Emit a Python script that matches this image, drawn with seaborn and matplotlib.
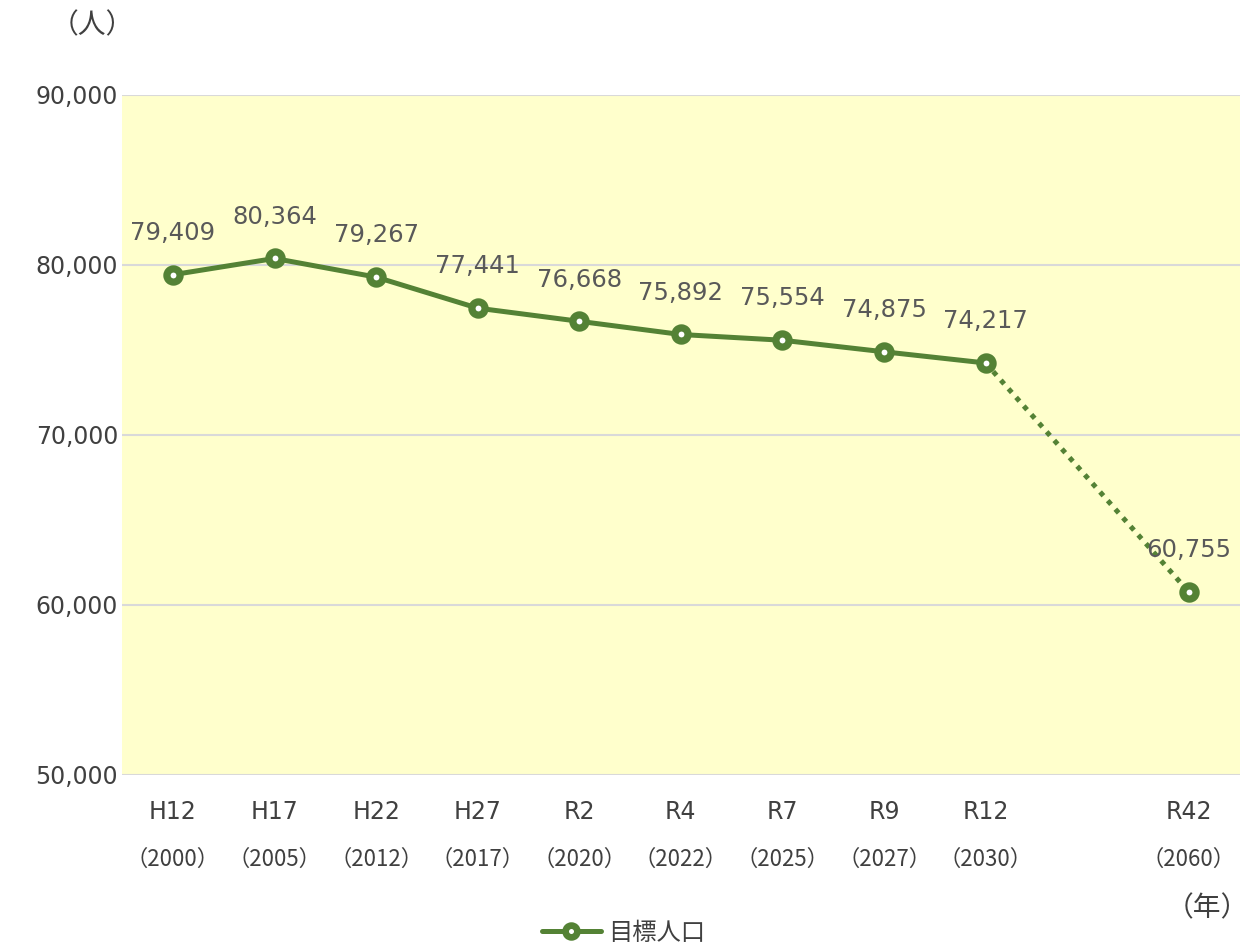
import pandas as pd
import matplotlib.pyplot as plt
import seaborn as sns
from matplotlib.lines import Line2D

# data
era_labels = ['H12', 'H17', 'H22', 'H27', 'R2', 'R4', 'R7', 'R9', 'R12', '', 'R42']
year_labels = ['2000', '2005', '2012', '2017', '2020', '2022', '2025', '2027', '2030', '', '2060']
population = [79409, 80364, 79267, 77441, 76668, 75892, 75554, 74875, 74217, None, 60755]

green = '#548235'
df = pd.DataFrame({'pos': range(len(era_labels)), 'pop': population}).dropna()
actual = df[df['pos'] <= 8]
future = df[df['pos'] >= 8]

sns.set_theme(style='white')
plt.rcParams['font.family'] = ['DejaVu Sans', 'Noto Sans CJK JP']
jp = ['Noto Sans CJK JP', 'DejaVu Sans']

fig = plt.figure(figsize=(12.47, 9.46), dpi=100)
ax = fig.add_axes([0.098, 0.181, 0.896, 0.719])
ax.set_facecolor('#FFFFCC')

sns.lineplot(data=actual, x='pos', y='pop', color=green, linewidth=3.6, ax=ax)
sns.lineplot(data=future, x='pos', y='pop', color=green, linewidth=3.6,
             linestyle=(0, (1, 1.3)), ax=ax)
ax.plot(df['pos'], df['pop'], linestyle='none', marker='o', markersize=9.5,
        markerfacecolor='white', markeredgecolor=green, markeredgewidth=5.2, zorder=5)

# data labels
for p, v in zip(df['pos'], df['pop']):
    ax.text(p, v + 1750, f'{int(v):,}', ha='center', va='bottom', fontsize=17.5,
            color='#595959')

ax.set_xlim(-0.5, 10.5)
ax.set_ylim(50000, 90000)
yt = [50000, 60000, 70000, 80000, 90000]
ax.set_yticks(yt)
ax.set_yticklabels([f'{t:,}' for t in yt], fontsize=17, color='#404040')
ax.grid(axis='y', color='#D9D9D9', linewidth=1.5)
ax.set_axisbelow(True)

ticks = [i for i, e in enumerate(era_labels) if e]
ax.set_xticks(ticks)
ax.set_xticklabels(['' for _ in ticks])
ax.tick_params(axis='both', length=0, pad=3)
for i in ticks:
    ax.text(i, 47800, era_labels[i], ha='center', va='center', fontsize=17,
            color='#404040')
    ax.text(i, 45000, '（' + year_labels[i] + '）', ha='center', va='center',
            fontsize=16, color='#404040', family=jp)

for s in ax.spines.values():
    s.set_visible(False)
ax.set_xlabel('')
ax.set_ylabel('')

fig.text(0.074, 0.973, '（人）', ha='center', va='center', fontsize=20,
         color='#404040', family=jp)
fig.text(0.968, 0.040, '（年）', ha='center', va='center', fontsize=20,
         color='#404040', family=jp)

handle = Line2D([], [], color=green, linewidth=3.6, marker='o', markersize=8.5,
                markerfacecolor='white', markeredgecolor=green, markeredgewidth=4.8)
leg = fig.legend([handle], ['目標人口'], loc='center', bbox_to_anchor=(0.5, 0.014),
                 frameon=False, handlelength=2.4, handletextpad=0.3,
                 prop={'family': jp, 'size': 17.5})
for t in leg.get_texts():
    t.set_color('#404040')

fig.savefig('out.png', dpi=100)
